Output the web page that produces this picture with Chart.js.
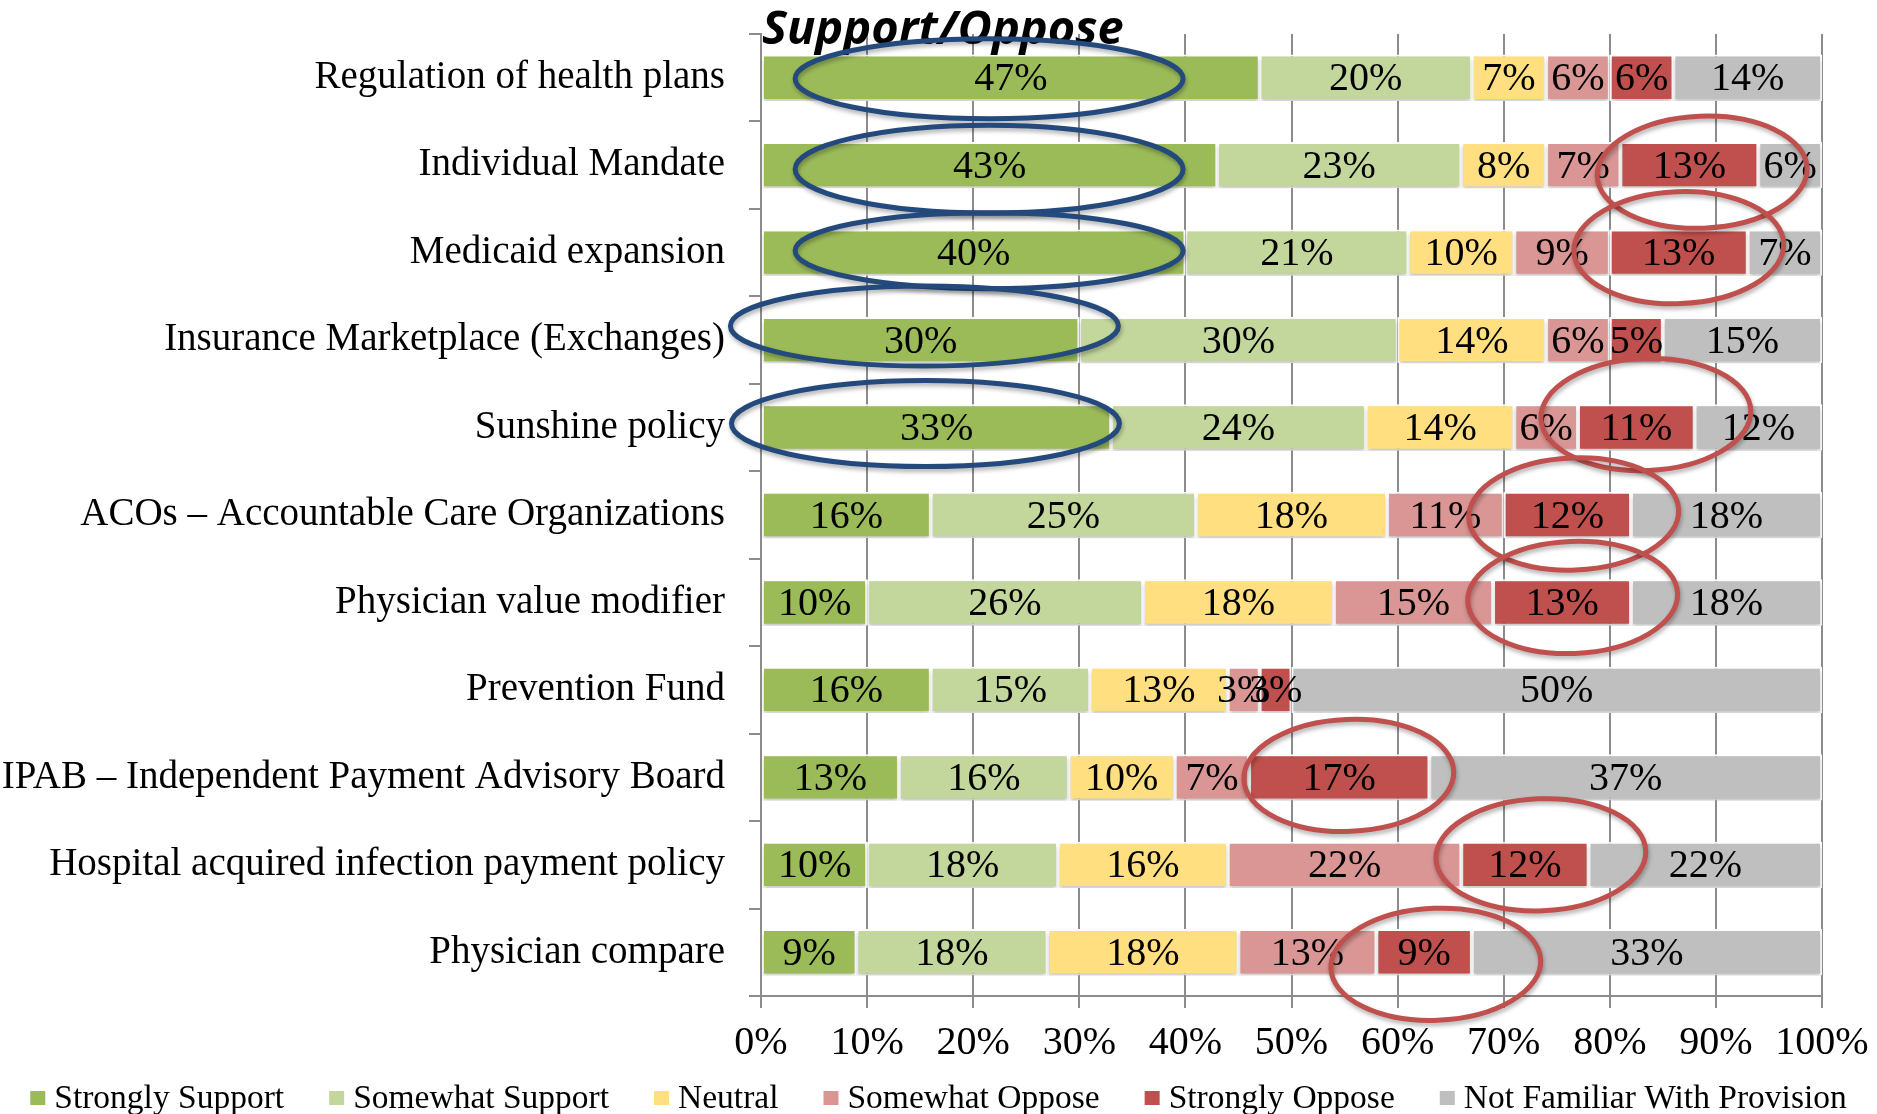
<!DOCTYPE html>
<html>
<head>
<meta charset="utf-8">
<script src="https://cdn.jsdelivr.net/npm/chart.js@4.4.1/dist/chart.umd.min.js"></script>
<style>
  html, body { margin: 0; padding: 0; background: #fff; }
  #wrap { width: 1877px; height: 1114px; }
</style>
</head>
<body>
<div id="wrap"><canvas id="chart" width="1877" height="1114"></canvas></div>
<script>
// Categories (top to bottom)
const categories = [
    'Regulation of health plans',
    'Individual Mandate',
    'Medicaid expansion',
    'Insurance Marketplace (Exchanges)',
    'Sunshine policy',
    'ACOs – Accountable Care Organizations',
    'Physician value modifier',
    'Prevention Fund',
    'IPAB – Independent Payment Advisory Board',
    'Hospital acquired infection payment policy',
    'Physician compare'
];

const seriesNames = ['Strongly Support', 'Somewhat Support', 'Neutral', 'Somewhat Oppose', 'Strongly Oppose', 'Not Familiar With Provision'];

// Percent values per series
const strongSupport = [47, 43, 40, 30, 33, 16, 10, 16, 13, 10, 9];
const someSupport   = [20, 23, 21, 30, 24, 25, 26, 15, 16, 18, 18];
const neutral       = [7, 8, 10, 14, 14, 18, 18, 13, 10, 16, 18];
const someOppose    = [6, 7, 9, 6, 6, 11, 15, 3, 7, 22, 13];
const strongOppose  = [6, 13, 13, 5, 11, 12, 13, 3, 17, 12, 9];
const notFamiliar   = [14, 6, 7, 15, 12, 18, 18, 50, 37, 22, 33];

// x axis tick labels
const tickValues = [0, 10, 20, 30, 40, 50, 60, 70, 80, 90, 100];

const colors = ['#9bbb59', '#c3d69b', '#ffdf80', '#d99694', '#c0504d', '#bfbfbf'];
const allSeries = [strongSupport, someSupport, neutral, someOppose, strongOppose, notFamiliar];

// hand-drawn rings: dataset, row, offsets (dx in %, dy in px)
const blueRings = [
    { row: 0, dx: -2, dy: 1, ry: 40 },
    { row: 1, dx: 0, dy: 4, ry: 44 },
    { row: 2, dx: 1.5, dy: -2, ry: 38 },
    { row: 3, dx: 0.4, dy: -14, ry: 40 },
    { row: 4, dx: -1, dy: -4, ry: 43 }
];
const redRings = [
    { row: 1, dx: 1.2, dy: 7 },
    { row: 2, dx: 0, dy: -5 },
    { row: 4, dx: 0.9, dy: -13 },
    { row: 5, dx: 0.6, dy: -1 },
    { row: 6, dx: 1, dy: -5 },
    { row: 8, dx: 0.9, dy: -2 },
    { row: 9, dx: 1.5, dy: -10 },
    { row: 10, dx: 1.1, dy: 12 }
];

Chart.defaults.font.family = '"Liberation Serif", serif';
Chart.defaults.color = '#000';

const datasets = allSeries.map((vals, i) => ({
    label: seriesNames[i],
    data: vals,
    backgroundColor: colors[i],
    borderColor: '#ffffff',
    borderWidth: 2,
    borderSkipped: false,
    barPercentage: 0.53,
    categoryPercentage: 1
}));

function ringCenter(chart, dsIndex, ring) {
    let start = 0;
    for (let d = 0; d < dsIndex; d++) start += allSeries[d][ring.row];
    const mid = start + allSeries[dsIndex][ring.row] / 2 + ring.dx;
    return {
        x: chart.scales.x.getPixelForValue(mid),
        y: chart.scales.y.getPixelForValue(ring.row) + ring.dy
    };
}

const extras = {
    id: 'extras',
    beforeDatasetsDraw(chart) {
        const ctx = chart.ctx;
        ctx.save();
        ctx.shadowColor = 'rgba(0,0,0,0.22)';
        ctx.shadowBlur = 4;
        ctx.shadowOffsetY = 3;
    },
    afterDatasetsDraw(chart) {
        const ctx = chart.ctx;
        ctx.restore();
        // value labels
        ctx.save();
        ctx.font = '40px "Liberation Serif"';
        ctx.fillStyle = '#000';
        ctx.textAlign = 'center';
        ctx.textBaseline = 'middle';
        chart.data.datasets.forEach((ds, di) => {
            chart.getDatasetMeta(di).data.forEach((bar, i) => {
                const cx = (bar.x + bar.base) / 2;
                ctx.fillText(ds.data[i] + '%', cx, bar.y + 2);
            });
        });
        ctx.restore();
    },
    afterDraw(chart) {
        const ctx = chart.ctx;
        const area = chart.chartArea;

        // title
        ctx.save();
        ctx.font = 'italic bold 47px "Open Sans"';
        ctx.fillStyle = '#000';
        ctx.textBaseline = 'alphabetic';
        ctx.fillText('Support/Oppose', area.left + 1, 44);
        ctx.restore();

        // rings
        ctx.save();
        ctx.shadowColor = 'rgba(0,0,0,0.3)';
        ctx.shadowBlur = 4;
        ctx.shadowOffsetX = 1;
        ctx.shadowOffsetY = 3;
        ctx.lineWidth = 5;
        ctx.strokeStyle = '#23497d';
        blueRings.forEach(r => {
            const c = ringCenter(chart, 0, r);
            ctx.beginPath();
            ctx.ellipse(c.x, c.y, 194, r.ry, 0, 0, Math.PI * 2);
            ctx.stroke();
        });
        ctx.strokeStyle = '#c0504d';
        redRings.forEach(r => {
            const c = ringCenter(chart, 4, r);
            ctx.beginPath();
            ctx.ellipse(c.x, c.y, 105, 56, -0.04, 0, Math.PI * 2);
            ctx.stroke();
        });
        ctx.restore();

        // legend
        ctx.save();
        ctx.font = '33.5px "Liberation Serif"';
        ctx.textBaseline = 'middle';
        const box = 15, gapText = 9, gapItem = 45;
        const widths = seriesNames.map(n => ctx.measureText(n).width);
        const total = widths.reduce((a, b) => a + b, 0) + seriesNames.length * (box + gapText) + (seriesNames.length - 1) * gapItem;
        let x = (chart.width - total) / 2;
        const y = 1098;
        seriesNames.forEach((n, i) => {
            ctx.fillStyle = colors[i];
            ctx.fillRect(x, y - 7, box, 14);
            ctx.fillStyle = '#000';
            ctx.fillText(n, x + box + gapText, y + 1);
            x += box + gapText + widths[i] + gapItem;
        });
        ctx.restore();
    }
};

new Chart(document.getElementById('chart'), {
    type: 'bar',
    data: {
        labels: categories,
        datasets: datasets
    },
    options: {
        indexAxis: 'y',
        responsive: false,
        animation: false,
        layout: {
            padding: { top: 34, right: 55, bottom: 36, left: 0 }
        },
        plugins: {
            legend: { display: false },
            tooltip: { enabled: false }
        },
        scales: {
            x: {
                stacked: true,
                min: 0,
                max: 100,
                afterBuildTicks(scale) {
                    scale.ticks = tickValues.map(v => ({ value: v }));
                },
                afterFit(scale) {
                    scale.paddingLeft = 0;
                    scale.paddingRight = 0;
                },
                grid: {
                    color: '#8c8c8c',
                    lineWidth: 2,
                    drawTicks: true,
                    tickLength: 12
                },
                border: { color: '#8c8c8c', width: 2 },
                ticks: {
                    font: { size: 40 },
                    padding: 11,
                    maxRotation: 0,
                    autoSkip: false,
                    callback: v => v + '%'
                }
            },
            y: {
                stacked: true,
                afterFit(scale) {
                    scale.width = 761;
                    scale.paddingTop = 0;
                    scale.paddingBottom = 0;
                },
                grid: {
                    drawOnChartArea: false,
                    drawTicks: true,
                    tickLength: 12,
                    color: '#8c8c8c',
                    lineWidth: 2
                },
                border: { color: '#8c8c8c', width: 2 },
                ticks: {
                    font: { size: 39 },
                    padding: 24,
                    autoSkip: false
                }
            }
        }
    },
    plugins: [extras]
});
</script>
</body>
</html>
